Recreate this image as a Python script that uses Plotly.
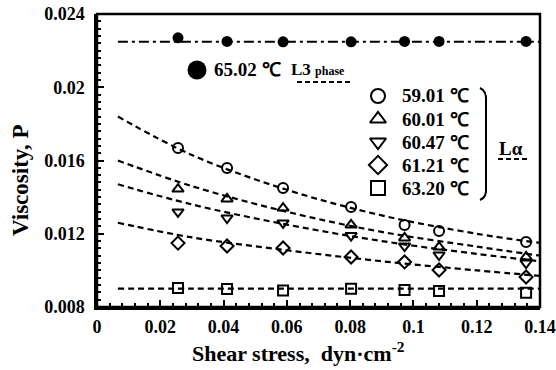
import plotly.graph_objects as go

# ---- data ----
shear = [0.0256, 0.0411, 0.0588, 0.0803, 0.0972, 0.1081, 0.1356]

visc_6502 = [0.0227, 0.02250, 0.02248, 0.02248, 0.02250, 0.02250, 0.02250]
visc_5901 = [0.01668, 0.01559, 0.01450, 0.01346, 0.01248, 0.01215, 0.01155]
visc_6001 = [0.01444, 0.01390, 0.01340, 0.01248, 0.01177, 0.01127, 0.01073]
visc_6047 = [0.01319, 0.01286, 0.01259, 0.01190, 0.01133, 0.01084, 0.01040]
visc_6121 = [0.01149, 0.01133, 0.01122, 0.01073, 0.01046, 0.01002, 0.00964]
visc_6320 = [0.00904, 0.00898, 0.00890, 0.00900, 0.00893, 0.00887, 0.00878]

# fitted (dashed) curves, read at these shear stresses
fit_x = [0.0066, 0.03, 0.06, 0.09, 0.12, 0.14]
fit_6502 = [0.02248, 0.02248, 0.02248, 0.02248, 0.02248, 0.02248]
fit_5901 = [0.0184, 0.0163, 0.0144, 0.0130, 0.0120, 0.0115]
fit_6001 = [0.0160, 0.0146, 0.0132, 0.0121, 0.0113, 0.0108]
fit_6047 = [0.0147, 0.0136, 0.0125, 0.0116, 0.0109, 0.0105]
fit_6121 = [0.0126, 0.0118, 0.0111, 0.0105, 0.0100, 0.0097]
fit_6320 = [0.0090, 0.0090, 0.0090, 0.0090, 0.0090, 0.0090]

labels = ["59.01 ℃", "60.01 ℃", "60.47 ℃", "61.21 ℃", "63.20 ℃"]
symbols = ["circle-open", "triangle-up-open", "triangle-down-open", "diamond-open", "square-open"]
series = [visc_5901, visc_6001, visc_6047, visc_6121, visc_6320]
fits = [fit_5901, fit_6001, fit_6047, fit_6121, fit_6320]

x_ticks = [0, 0.02, 0.04, 0.06, 0.08, 0.1, 0.12, 0.14]
x_tick_text = ["0", "0.02", "0.04", "0.06", "0.08", "0.1", "0.12", "0.14"]
y_ticks = [0.008, 0.012, 0.016, 0.02, 0.024]
y_tick_text = ["0.008", "0.012", "0.016", "0.02", "0.024"]
X_RANGE = [0, 0.14]
Y_RANGE = [0.008, 0.024]

FONT = "Liberation Serif"
W, H = 556, 370
PX0, PX1, PY0, PY1 = 97, 540, 14, 307          # plot box in window pixels
L, T, R, B = PX0, PY0, W - PX1, H - PY1

# layout helpers: window pixel -> paper / axis coordinates
def px(xs):
    return (xs - PX0) / (PX1 - PX0)
def py(ys):
    return (PY1 - ys) / (PY1 - PY0)
def ax_x(xs):
    return X_RANGE[0] + px(xs) * (X_RANGE[1] - X_RANGE[0])
def ax_y(ys):
    return Y_RANGE[0] + py(ys) * (Y_RANGE[1] - Y_RANGE[0])

fig = go.Figure()

# L3 phase fit + data
fig.add_trace(go.Scatter(x=fit_x, y=fit_6502, mode="lines", showlegend=False,
                         line=dict(color="black", width=2, dash="10px,4px,3px,4px")))
fig.add_trace(go.Scatter(x=shear, y=visc_6502, mode="markers", showlegend=False,
                         marker=dict(symbol="circle", size=11, color="black")))

for f in fits:
    fig.add_trace(go.Scatter(x=fit_x, y=f, mode="lines", line_shape="spline", showlegend=False,
                             line=dict(color="black", width=2.2, dash="6px,4px")))
for s, sym in zip(series, symbols):
    fig.add_trace(go.Scatter(x=shear, y=s, mode="markers", showlegend=False,
                             marker=dict(symbol=sym, size=10, color="black",
                                         line=dict(width=2, color="black"))))

# ---- hand-drawn legend (positions in window pixels) ----
fig.add_trace(go.Scatter(x=[ax_x(197)], y=[ax_y(70)], mode="markers", showlegend=False,
                         hoverinfo="skip", cliponaxis=False,
                         marker=dict(symbol="circle", size=19, color="#000000", opacity=1,
                                     line=dict(width=0))))
key_py = [96, 119, 142, 165, 188]
fig.add_trace(go.Scatter(x=[ax_x(378)] * len(key_py), y=[ax_y(v) for v in key_py],
                         mode="markers", showlegend=False, hoverinfo="skip", cliponaxis=False,
                         marker=dict(symbol=symbols, size=14, color="black",
                                     line=dict(width=2, color="black"))))

txt = dict(family=FONT, size=19, color="black", weight="bold")
def note(xs, ys, text, font, anchor="left", angle=0):
    fig.add_annotation(x=px(xs), y=py(ys), xref="paper", yref="paper", xanchor=anchor,
                       yanchor="middle", showarrow=False, text=text, font=font, textangle=angle)

note(212, 70, "65.02 ℃", txt)
note(289, 70, "L3 <span style='font-size:12px'>phase</span>",
     dict(family=FONT, size=17, color="black", weight="bold"))
fig.add_shape(type="line", xref="paper", yref="paper", x0=px(297), x1=px(352), y0=py(82), y1=py(82),
              line=dict(color="black", width=2, dash="5px,3px"))
for lab, yy in zip(labels, key_py):
    note(400, yy, lab, txt)
# bracket
fig.add_shape(type="path", xref="paper", yref="paper",
              path=(f"M {px(480)} {py(88)} Q {px(487)} {py(91)} {px(486)} {py(102)} "
                    f"L {px(486)} {py(188)} Q {px(487)} {py(197)} {px(480)} {py(200)}"),
              line=dict(color="black", width=2))
# L alpha
note(497, 148, "Lα", txt)
fig.add_shape(type="line", xref="paper", yref="paper", x0=px(498), x1=px(528), y0=py(159), y1=py(159),
              line=dict(color="black", width=2, dash="5px,3px"))

# plot frame
fig.add_shape(type="rect", xref="paper", yref="paper", x0=0, x1=1, y0=0, y1=1,
              line=dict(color="black", width=2.5), fillcolor="rgba(0,0,0,0)", layer="above")

# axis titles
note(298, 352, "Shear stress,  dyn·cm<sup>-2</sup>",
     dict(family=FONT, size=22, color="black", weight="bold"), anchor="center")
note(20, 180, "Viscosity, P", dict(family=FONT, size=23, color="black", weight="bold"),
     anchor="center", angle=-90)

axis_common = dict(showline=True, linewidth=2.5, linecolor="black", mirror=False,
                   ticks="inside", ticklen=7, tickwidth=2, tickcolor="black",
                   showgrid=False, zeroline=False, automargin=False, ticklabeloverflow="allow",
                   tickfont=dict(family=FONT, size=18, color="black", weight="bold"))

fig.update_layout(
    width=W, height=H, margin=dict(l=L, r=R, t=T, b=B),
    paper_bgcolor="white", plot_bgcolor="white",
    font=dict(family=FONT, color="black"),
    showlegend=False,
    xaxis=dict(range=X_RANGE, tickvals=x_ticks, ticktext=x_tick_text, ticklabelstandoff=2,
               minor=dict(ticks="inside", ticklen=4, tickwidth=1.5, dtick=0.004, tickcolor="black"),
               **axis_common),
    yaxis=dict(range=Y_RANGE, tickvals=y_ticks, ticktext=y_tick_text, ticklabelstandoff=6,
               minor=dict(ticks="inside", ticklen=4, tickwidth=1.5, dtick=0.0004, tickcolor="black"),
               **axis_common),
)

fig.write_html("out.html", config={"displayModeBar": False},
               post_script="document.body.style.margin='0';document.body.style.overflow='hidden';")
